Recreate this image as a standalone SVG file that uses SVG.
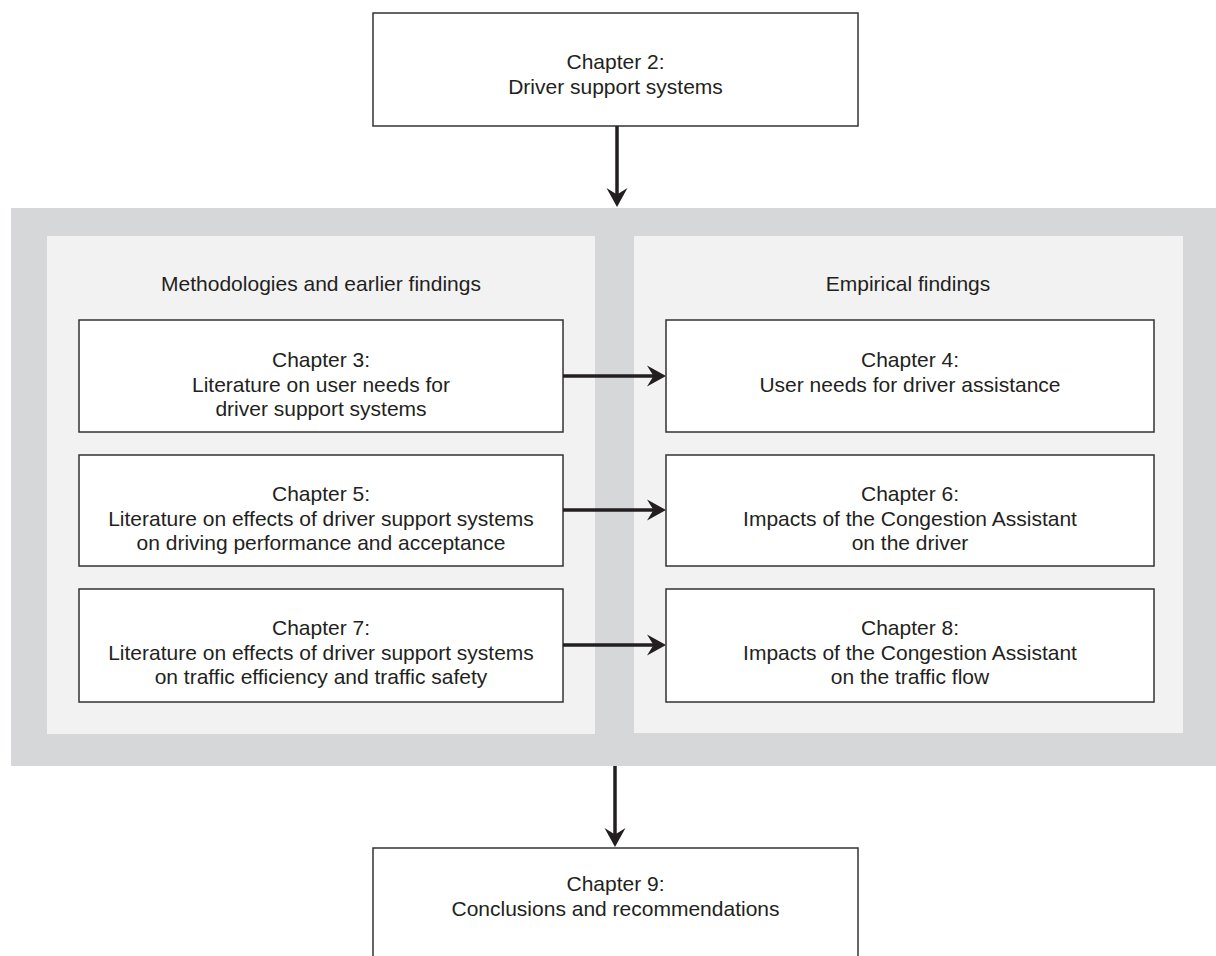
<svg xmlns="http://www.w3.org/2000/svg" width="1216" height="956" viewBox="0 0 1216 956">
  <defs>
    <!-- barbed arrowhead shared by every connector -->
    <marker id="head" markerUnits="userSpaceOnUse" markerWidth="20" markerHeight="22" viewBox="0 0 20 22" refX="9" refY="11" orient="auto">
      <path d="M0,0.5 L19,11 L0,21.5 L6.5,11 Z" fill="#231f20"/>
    </marker>
  </defs>
  <style>
    .band { fill: #d6d7d9; }
    .panel { fill: #f2f2f2; }
    .box { fill: #ffffff; stroke: #333333; stroke-width: 1.5; }
    .lbl { font-family: "Liberation Sans", Arial, sans-serif; font-size: 21px; fill: #231f20; text-anchor: middle; }
    .link { stroke: #231f20; stroke-width: 3.5; fill: none; marker-end: url(#head); }
  </style>

  <rect width="1216" height="956" fill="#ffffff"/>

  <!-- grey band holding the two columns -->
  <g id="band">
    <rect class="band" x="11" y="208" width="1205" height="558"/>
    <rect class="panel" x="47" y="236" width="548" height="498"/>
    <rect class="panel" x="634" y="236" width="549" height="497"/>
    <text class="lbl" x="321" y="291">Methodologies and earlier findings</text>
    <text class="lbl" x="908" y="291">Empirical findings</text>
  </g>

  <g id="ch2">
    <rect class="box" x="373" y="13" width="485" height="113"/>
    <text class="lbl" x="615.5" y="69">Chapter 2:</text>
    <text class="lbl" x="615.5" y="94">Driver support systems</text>
  </g>

  <g id="ch3">
    <rect class="box" x="79" y="320" width="484" height="112"/>
    <text class="lbl" x="321" y="367">Chapter 3:</text>
    <text class="lbl" x="321" y="392">Literature on user needs for</text>
    <text class="lbl" x="321" y="416">driver support systems</text>
  </g>

  <g id="ch4">
    <rect class="box" x="666" y="320" width="488" height="112"/>
    <text class="lbl" x="910" y="367">Chapter 4:</text>
    <text class="lbl" x="910" y="392">User needs for driver assistance</text>
  </g>

  <g id="ch5">
    <rect class="box" x="79" y="455" width="484" height="111"/>
    <text class="lbl" x="321" y="501">Chapter 5:</text>
    <text class="lbl" x="321" y="526">Literature on effects of driver support systems</text>
    <text class="lbl" x="321" y="550">on driving performance and acceptance</text>
  </g>

  <g id="ch6">
    <rect class="box" x="666" y="455" width="488" height="111"/>
    <text class="lbl" x="910" y="501">Chapter 6:</text>
    <text class="lbl" x="910" y="526">Impacts of the Congestion Assistant</text>
    <text class="lbl" x="910" y="550">on the driver</text>
  </g>

  <g id="ch7">
    <rect class="box" x="79" y="589" width="484" height="113"/>
    <text class="lbl" x="321" y="635">Chapter 7:</text>
    <text class="lbl" x="321" y="660">Literature on effects of driver support systems</text>
    <text class="lbl" x="321" y="684">on traffic efficiency and traffic safety</text>
  </g>

  <g id="ch8">
    <rect class="box" x="666" y="589" width="488" height="113"/>
    <text class="lbl" x="910" y="635">Chapter 8:</text>
    <text class="lbl" x="910" y="660">Impacts of the Congestion Assistant</text>
    <text class="lbl" x="910" y="684">on the traffic flow</text>
  </g>

  <g id="ch9">
    <rect class="box" x="373" y="848" width="485" height="120"/>
    <text class="lbl" x="615.5" y="891">Chapter 9:</text>
    <text class="lbl" x="615.5" y="916">Conclusions and recommendations</text>
  </g>

  <g id="connectors">
    <line class="link" x1="617" y1="126" x2="617" y2="197"/>
    <line class="link" x1="563" y1="376" x2="656" y2="376"/>
    <line class="link" x1="563" y1="510" x2="656" y2="510"/>
    <line class="link" x1="563" y1="645" x2="656" y2="645"/>
    <line class="link" x1="615" y1="766" x2="615" y2="837"/>
  </g>
</svg>
